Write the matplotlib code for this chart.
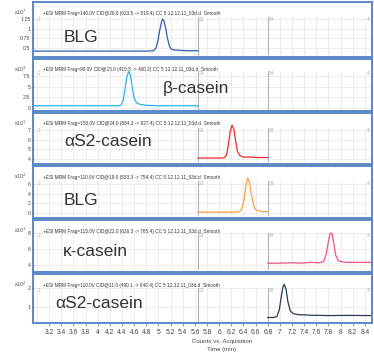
import matplotlib
matplotlib.use("Agg")
import matplotlib.pyplot as plt

plt.rcParams["font.family"] = ["Liberation Sans", "DejaVu Sans"]

W, H = 374, 352

# panel texts
names = ["BLG", "β-casein", "αS2-casein", "BLG", "κ-casein", "αS2-casein"]
headers = [
    "+ESI MRM Frag=140.0V CID@26.0 (623.5 -> 819.4) CC 5 12.12.11_03d.d  Smooth",
    "+ESI MRM Frag=90.0V CID@15.0 (415.5 -> 400.2) CC 5 12.12.11_03d.d  Smooth",
    "+ESI MRM Frag=150.0V CID@24.0 (684.3 -> 827.4) CC 5 12.12.11_03d.d  Smooth",
    "+ESI MRM Frag=110.0V CID@19.0 (533.3 -> 754.4) CC 5 12.12.11_03d.d  Smooth",
    "+ESI MRM Frag=115.0V CID@22.0 (626.3 -> 765.4) CC 5 12.12.11_03d.d  Smooth",
    "+ESI MRM Frag=110.0V CID@11.0 (490.1 -> 648.4) CC 5 12.12.11_03d.d  Smooth",
]
exponents = ["7", "3", "1", "2", "1", "2"]
colors = ["#2f5fae", "#28b4ea", "#ea2a2a", "#f7a243", "#f0508c", "#243a57"]

# y ticks per panel
yticks = [
    [0.5, 0.75, 1, 1.25],
    [0, 2.5, 5, 7.5],
    [4, 5, 6, 7],
    [0, 2, 4, 6],
    [4, 6, 8],
    [1, 2],
]
ytick_labels = [
    ["0.5", "0.75", "1", "1.25"],
    ["0", "2.5", "5", "7.5"],
    ["4", "5", "6", "7"],
    ["0", "2", "4", "6"],
    ["4", "6", "8"],
    ["1", "2"],
]
ylims = [(0.32, 1.30), (-0.5, 8.7), (3.69, 7.2), (-0.6, 6.6), (3.4, 8.0), (0.16, 2.0)]

# traces (acquisition time in min, counts)
t1 = [2.95, 3.5, 4.2, 4.8, 4.92, 4.96, 4.99, 5.02, 5.05, 5.07, 5.09, 5.12, 5.15, 5.18, 5.21, 5.26, 5.35, 5.5, 5.65]
y1 = [0.42, 0.42, 0.42, 0.42, 0.43, 0.50, 0.68, 0.95, 1.17, 1.25, 1.20, 1.00, 0.74, 0.55, 0.47, 0.45, 0.44, 0.43, 0.43]

t2 = [2.95, 3.5, 4.0, 4.3, 4.38, 4.42, 4.45, 4.48, 4.51, 4.54, 4.57, 4.60, 4.64, 4.70, 4.8, 5.0, 5.3, 5.65]
y2 = [0.5, 0.5, 0.5, 0.5, 0.6, 1.8, 4.5, 7.4, 8.6, 7.6, 4.6, 2.2, 1.2, 0.8, 0.6, 0.5, 0.5, 0.5]

t3 = [5.65, 5.8, 6.0, 6.08, 6.12, 6.15, 6.18, 6.21, 6.24, 6.27, 6.30, 6.34, 6.40, 6.5, 6.65, 6.8]
y3 = [4.1, 4.1, 4.1, 4.12, 4.4, 5.4, 6.8, 7.5, 7.1, 5.9, 4.8, 4.35, 4.2, 4.2, 4.15, 4.15]

t4 = [5.65, 5.9, 6.2, 6.33, 6.37, 6.41, 6.44, 6.47, 6.50, 6.53, 6.57, 6.61, 6.66, 6.72, 6.8]
y4 = [0.2, 0.2, 0.2, 0.25, 0.8, 2.8, 5.6, 7.2, 6.3, 3.8, 1.5, 0.6, 0.4, 0.3, 0.3]

t5 = [6.8, 7.0, 7.2, 7.35, 7.5, 7.65, 7.72, 7.76, 7.80, 7.83, 7.86, 7.89, 7.92, 7.96, 8.0, 8.1, 8.3, 8.5]
y5 = [4.25, 4.25, 4.3, 4.25, 4.35, 4.3, 4.45, 5.3, 7.0, 8.0, 7.9, 6.6, 5.2, 4.6, 4.45, 4.35, 4.35, 4.35]

t6 = [6.8, 6.9, 6.95, 6.99, 7.02, 7.05, 7.07, 7.10, 7.13, 7.17, 7.22, 7.3, 7.5, 7.8, 8.1, 8.5]
y6 = [0.45, 0.45, 0.5, 0.85, 1.5, 2.05, 2.2, 1.95, 1.3, 0.8, 0.65, 0.6, 0.57, 0.55, 0.56, 0.55]

traces = [(t1, y1), (t2, y2), (t3, y3), (t4, y4), (t5, y5), (t6, y6)]

xticks = [3.2, 3.4, 3.6, 3.8, 4.0, 4.2, 4.4, 4.6, 4.8, 5.0, 5.2, 5.4, 5.6, 5.8, 6.0,
          6.2, 6.4, 6.6, 6.8, 7.0, 7.2, 7.4, 7.6, 7.8, 8.0, 8.2, 8.4]
xtick_labels = ["3.2", "3.4", "3.6", "3.8", "4", "4.2", "4.4", "4.6", "4.8", "5", "5.2",
                "5.4", "5.6", "5.8", "6", "6.2", "6.4", "6.6", "6.8", "7", "7.2", "7.4",
                "7.6", "7.8", "8", "8.2", "8.4"]
xgrid = [3.0] + xticks
segments = [(3.0, "2"), (5.65, "23"), (6.8, "34")]

# layout in pixels: frame top/bottom, inner plot top/bottom, name position
frames = [(2, 57), (59, 111), (113, 164), (166, 218), (220, 272), (274, 323)]
inner = [(17, 55), (71, 110), (128, 162), (181, 216), (233, 270), (288, 323)]
name_pos = [(64, 37), (163, 88), (64, 141), (64, 200), (63, 252), (55, 303)]

fig = plt.figure(figsize=(W / 100, H / 100), dpi=100)

FRAME = "#5b88c9"
XL, XR = 2.95, 8.5


def fx(px):
    return px / W


def fy(py):
    return 1 - py / H


for i in range(6):
    ft, fb = frames[i]
    it, ib = inner[i]

    # outer box
    box = fig.add_axes([fx(33), fy(fb), fx(372 - 33), (fb - ft) / H])
    box.set_xticks([])
    box.set_yticks([])
    box.patch.set_alpha(0)
    for s in box.spines.values():
        s.set_color(FRAME)
        s.set_linewidth(1.4)
    box.set_zorder(3)

    ax = fig.add_axes([fx(34), fy(ib), fx(371 - 34), (ib - it) / H])
    ax.set_xlim(XL, XR)
    ax.set_ylim(*ylims[i])
    for s in ax.spines.values():
        s.set_visible(False)
    for gx in xgrid:
        ax.axvline(gx, color="#e6e6e6", lw=0.5, zorder=0)
    for gy in yticks[i]:
        ax.axhline(gy, color="#e6e6e6", lw=0.5, zorder=0)
    for sx, lab in segments:
        if sx > 3.0:
            ax.axvline(sx, color="#b5b5b5", lw=0.8, zorder=1)
        ax.text(sx + 0.02, 1.0, lab, transform=ax.get_xaxis_transform(),
                fontsize=3.5, color="#b0b0b0", va="top", ha="left")
    ax.text(XR - 0.02, 1.0, "4", transform=ax.get_xaxis_transform(),
            fontsize=3.5, color="#b0b0b0", va="top", ha="right")

    t, y = traces[i]
    ax.plot(t, y, color=colors[i], lw=0.9, clip_on=False, zorder=2)

    ax.set_yticks(yticks[i])
    ax.set_yticklabels(ytick_labels[i])
    ax.tick_params(axis="y", labelsize=3.8, length=1.5, width=0.4, pad=1,
                   colors="#444444")
    if i < 5:
        ax.set_xticks([])
    else:
        ax.set_xticks(xticks)
        ax.set_xticklabels(xtick_labels)
        ax.tick_params(axis="x", labelsize=4.8, length=2, width=0.4, pad=2,
                       colors="#444444")

    fig.text(fx(43), fy(ft + 11), headers[i], fontsize=3.4, color="#333333",
             va="center", ha="left")
    fig.text(fx(20), fy(ft + 10), r"x10$^{%s}$" % exponents[i], fontsize=3.6,
             color="#444444", va="center", ha="center")
    nx, ny = name_pos[i]
    fig.text(fx(nx), fy(ny), names[i], fontsize=12.5, color="#333333",
             va="center", ha="left")

fig.text(fx(222), fy(342), "Counts vs. Acquisition", fontsize=4.4,
         color="#444444", ha="center", va="center")
fig.text(fx(222), fy(350), "Time (min)", fontsize=4.4, color="#444444",
         ha="center", va="center")

fig.savefig("out.png", dpi=100)
